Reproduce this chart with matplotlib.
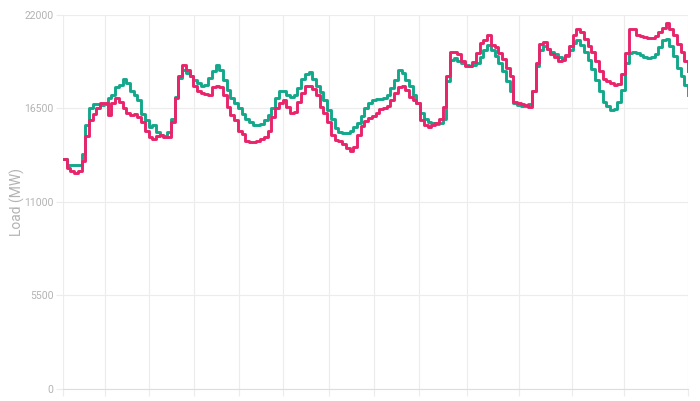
import matplotlib
matplotlib.use('Agg')
import matplotlib.pyplot as plt
import numpy as np

# hourly load, one week (169 samples, steps-post)
forecast = [
    13500, 13200, 13150, 13150, 13200, 13800, 15500, 16500, 16750, 16750, 16700, 16750,
    17100, 17300, 17750, 17900, 18250, 18000, 17500, 17300, 17000, 16200, 15800, 15400,
    15500, 15100, 14950, 14900, 15100, 15900, 17200, 18300, 18750, 18600, 18400, 18200,
    18000, 17800, 17900, 18300, 18700, 19050, 18750, 18200, 17600, 17100, 16800, 16500,
    16200, 15900, 15700, 15550, 15550, 15600, 15800, 16100, 16500, 17100, 17500, 17500,
    17300, 17150, 17300, 17700, 18250, 18550, 18650, 18250, 17850, 17450, 17000, 16400,
    15900, 15350, 15100, 15050, 15050, 15150, 15400, 15650, 16050, 16500, 16850, 17000,
    17050, 17050, 17100, 17300, 17700, 18200, 18750, 18600, 18200, 17800, 17300, 16800,
    16250, 15900, 15700, 15650, 15600, 15650, 15900, 18100, 19350, 19450, 19300, 19200,
    19050, 19000, 19050, 19200, 19550, 19950, 20250, 19950, 19600, 19200, 18700, 18100,
    17550, 16800, 16700, 16650, 16650, 16750, 17500, 19000, 19950, 20150, 20000, 19850,
    19700, 19500, 19400, 19600, 19950, 20350, 20550, 20250, 19850, 19350, 18850, 18200,
    17500, 16900, 16650, 16400, 16450, 16900, 17600, 19200, 19750, 19850, 19750, 19650,
    19550, 19450, 19500, 19700, 20100, 20500, 20600, 20200, 19600, 18900, 18400, 17900,
    17300,
]
actual = [
    13500, 13000, 12800, 12700, 12850, 13400, 14900, 15800, 16200, 16500, 16800, 16800,
    16100, 16800, 17100, 16900, 16500, 16250, 16100, 16200, 16000, 15700, 15200, 14800,
    14700, 14900, 14950, 14800, 14850, 15700, 17100, 18400, 19050, 18750, 18400, 17800,
    17500, 17400, 17350, 17300, 17750, 17800, 17750, 17300, 16600, 16100, 15800, 15150,
    15000, 14600, 14550, 14550, 14600, 14700, 14800, 15200, 16000, 16500, 16800, 17000,
    16600, 16250, 16300, 16900, 17400, 17850, 17850, 17650, 17300, 16600, 16250, 15700,
    14950, 14650, 14600, 14400, 14150, 14000, 14250, 14950, 15450, 15750, 15950, 16050,
    16250, 16450, 16550, 16650, 17000, 17400, 17750, 17800, 17600, 17200, 17000, 16800,
    15800, 15500, 15400, 15550, 15650, 15900, 16600, 18400, 19850, 19850, 19700, 19300,
    19000, 19000, 19250, 19750, 20350, 20550, 20800, 20250, 20100, 19750, 19400, 18900,
    18400, 16900, 16800, 16750, 16700, 16600, 17500, 19200, 20300, 20400, 20000, 19700,
    19500, 19300, 19350, 19650, 20200, 20800, 21200, 21000, 20600, 20200, 19800, 19300,
    18700, 18250, 18100, 18000, 17900, 17950, 18550, 19750, 21200, 21150, 20850, 20750,
    20700, 20650, 20650, 20750, 21000, 21250, 21500, 21200, 20800, 20300, 19800, 19300,
    18700,
]
y_ticks = [0, 5500, 11000, 16500, 22000]
x_grid = [0, 11.3, 23.1, 35.2, 47.3, 59.1, 71.5, 83.6, 95.7, 108.6, 122.6, 136.8, 150.8, 168]

TEAL = '#13a88b'
PINK = '#e8246a'
GRID = '#ececec'
TXT = '#b3b3b3'

plt.rcParams['font.family'] = ['Roboto', 'DejaVu Sans']

fig = plt.figure(figsize=(7, 4.01), dpi=100)
ax = fig.add_axes([0.09, 0.03, 0.893, 0.9326])

x = np.arange(len(forecast))
ax.plot(x, forecast, drawstyle='steps-post', color=TEAL, linewidth=2.1, zorder=3)
ax.plot(x, actual, drawstyle='steps-post', color=PINK, linewidth=2.1, zorder=4)

ax.set_xlim(0, len(forecast) - 1)
ax.set_ylim(0, 22000)
ax.set_yticks(y_ticks)
ax.set_yticklabels([str(v) for v in y_ticks])
ax.set_xticks(x_grid)
ax.set_xticklabels([])

ax.grid(True, color=GRID, linewidth=0.8, zorder=0)
ax.tick_params(axis='both', color=GRID, length=5, width=0.8, labelsize=7.5, labelcolor=TXT, pad=2)
for s in ['top', 'right', 'left']:
    ax.spines[s].set_visible(False)
ax.spines['bottom'].set_color('#dddddd')
ax.spines['bottom'].set_linewidth(0.8)

ax.set_ylabel('Load (MW)', color=TXT, fontsize=10)
ax.yaxis.set_label_coords(-0.061, 0.5)

fig.savefig('out.png', dpi=100, facecolor='white')
plt.close()
